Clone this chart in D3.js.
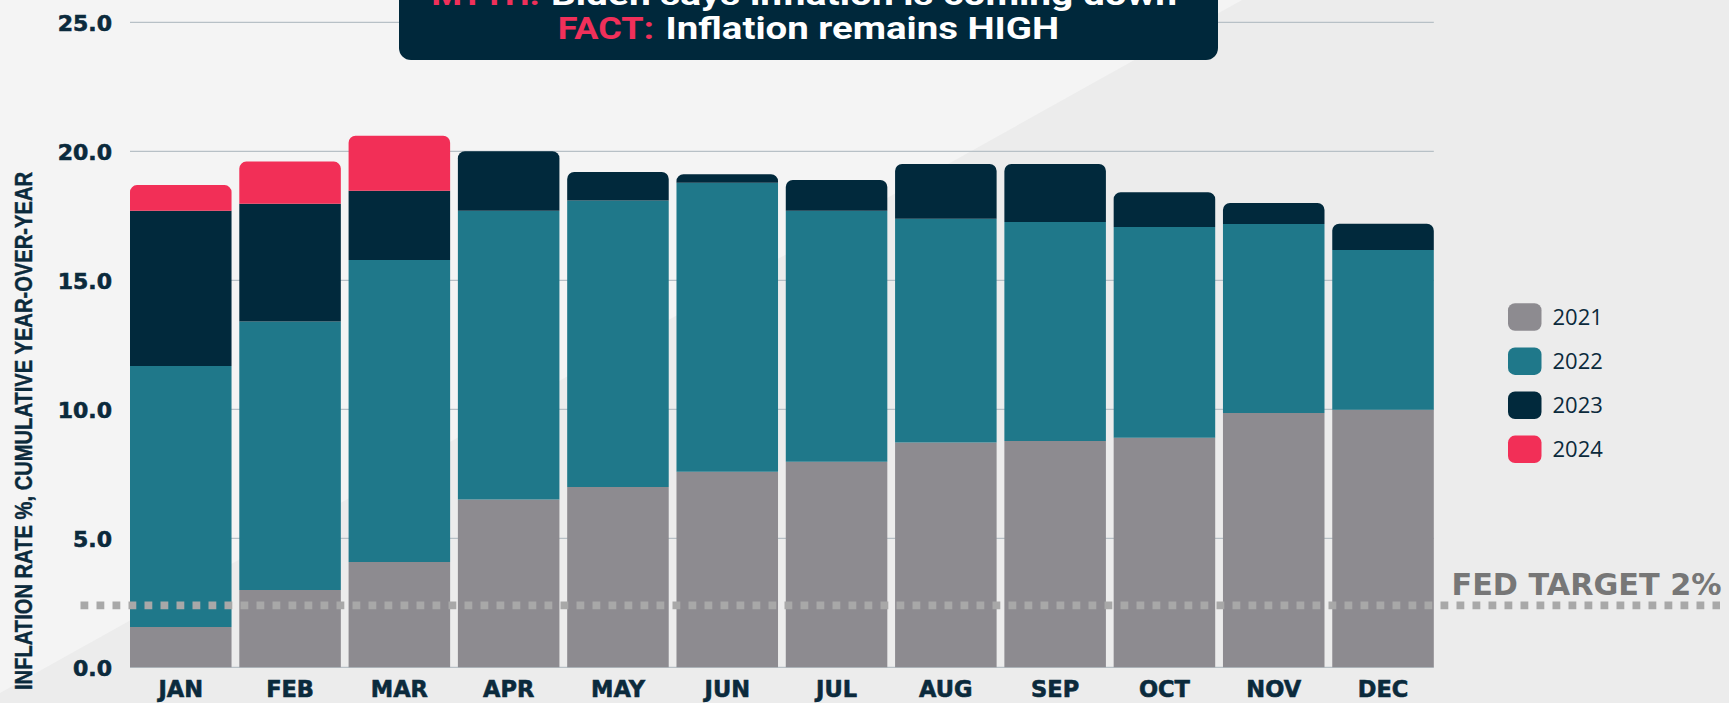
<!DOCTYPE html>
<html>
<head>
<meta charset="utf-8">
<script src="https://cdn.jsdelivr.net/npm/d3@7"></script>
<style>
  html, body { margin: 0; padding: 0; background: #ececec; overflow: hidden; }
  svg { display: block; }
</style>
</head>
<body>
<svg id="chart" width="1729" height="703"></svg>
<script>
// ---------------- DATA ----------------
const months = ["JAN","FEB","MAR","APR","MAY","JUN","JUL","AUG","SEP","OCT","NOV","DEC"];
const years = ["2021","2022","2023","2024"];
const values2021 = [1.56, 3.00, 4.08, 6.50, 6.99, 7.58, 7.97, 8.71, 8.77, 8.90, 9.86, 9.98];
const values2022 = [10.12, 10.40, 11.71, 11.20, 11.10, 11.20, 9.73, 8.68, 8.49, 8.17, 7.32, 6.19];
const values2023 = [6.02, 4.57, 2.68, 2.30, 1.11, 0.33, 1.19, 2.12, 2.25, 1.34, 0.82, 1.02];
const values2024 = [0.99, 1.63, 2.13, 0, 0, 0, 0, 0, 0, 0, 0, 0];
const yTickValues = [0, 5, 10, 15, 20, 25];
const fedTargetValue = 2.4;
const fedTargetLabel = "FED TARGET 2%";
const yAxisTitle = "INFLATION RATE %, CUMULATIVE YEAR-OVER-YEAR";
const titleMythLabel = "MYTH:";
const titleMythText = "Biden says inflation is coming down";
const titleFactLabel = "FACT:";
const titleFactText = "Inflation remains HIGH";

// ---------------- STYLE ----------------
const colors = { "2021": "#8d8b90", "2022": "#1f788a", "2023": "#01293c", "2024": "#f22f57" };
const navy = "#0b2a3c";

const svg = d3.select("#chart");
const W = 1729, H = 703;

// background with diagonal light area
svg.append("rect").attr("width", W).attr("height", H).attr("fill", "#ececec");
svg.append("path").attr("d", "M0,0 L1242,0 L0,693 Z").attr("fill", "#f4f4f4");

// scales
const x = d3.scaleBand().domain(months).range([130, 1433.8]).paddingInner(0.071).paddingOuter(0);
const y = d3.scaleLinear().domain([0, 25]).range([667.3, 22.3]);

// table for stacking
const table = months.map((m, i) => ({
  month: m,
  "2021": values2021[i], "2022": values2022[i], "2023": values2023[i], "2024": values2024[i]
}));
const stacked = d3.stack().keys(years)(table);

// gridlines
svg.append("g").selectAll("line").data(yTickValues).join("line")
  .attr("x1", x.range()[0]).attr("x2", x.range()[1])
  .attr("y1", d => y(d)).attr("y2", d => y(d))
  .attr("stroke", "#b7c0c6").attr("stroke-width", 1.2);

// y axis
const yAxis = svg.append("g").attr("transform", `translate(${x.range()[0]},0)`)
  .call(d3.axisLeft(y).tickValues(yTickValues).tickFormat(d3.format(".1f")).tickSize(0).tickPadding(18));
yAxis.select(".domain").remove();
yAxis.selectAll("text")
  .attr("font-family", "'DejaVu Sans', sans-serif").attr("font-weight", "bold")
  .attr("font-size", 22).attr("fill", navy).attr("stroke", navy).attr("stroke-width", 0.6)
  .attr("dy", "0.36em");

// x axis
const xAxis = svg.append("g").attr("transform", `translate(0,${y(0)})`)
  .call(d3.axisBottom(x).tickSize(0));
xAxis.select(".domain").remove();
xAxis.selectAll("text")
  .attr("font-family", "'DejaVu Sans', sans-serif").attr("font-weight", "bold")
  .attr("font-size", 22.5).attr("fill", navy).attr("stroke", navy).attr("stroke-width", 0.6)
  .attr("y", 29.5).attr("dy", null);

// find top series per month
const topIndex = months.map((m, i) => {
  let t = 0;
  stacked.forEach((s, k) => { if (s[i][1] - s[i][0] > 0) t = k; });
  return t;
});

function segPath(x0, w, yTop, yBot, r) {
  r = Math.min(r, (yBot - yTop), w / 2);
  return `M${x0},${yBot} V${yTop + r} A${r},${r} 0 0 1 ${x0 + r},${yTop} H${x0 + w - r} A${r},${r} 0 0 1 ${x0 + w},${yTop + r} V${yBot} Z`;
}

const barG = svg.append("g");
stacked.forEach((s, k) => {
  barG.append("g").attr("fill", colors[s.key])
    .selectAll("path").data(s.map((d, i) => ({ d, i })).filter(o => o.d[1] - o.d[0] > 0)).join("path")
    .attr("d", o => {
      const x0 = x(months[o.i]), w = x.bandwidth();
      const yTop = y(o.d[1]), yBot = y(o.d[0]);
      if (topIndex[o.i] === k) return segPath(x0, w, yTop, yBot, 7);
      return `M${x0},${yBot} V${yTop} H${x0 + w} V${yBot} Z`;
    });
});

// fed target line
svg.append("line")
  .attr("x1", 80.5).attr("x2", 1720)
  .attr("y1", y(fedTargetValue)).attr("y2", y(fedTargetValue))
  .attr("stroke", "#a8a8a8").attr("stroke-width", 7.7)
  .attr("stroke-dasharray", "7.8,8.2");
svg.append("text")
  .attr("x", 1451.5).attr("y", 595)
  .attr("font-family", "'DejaVu Sans', sans-serif").attr("font-weight", "bold")
  .attr("font-size", 30).attr("fill", "#777777")
  .attr("textLength", 270).attr("lengthAdjust", "spacingAndGlyphs")
  .text(fedTargetLabel);

// y axis title
svg.append("text")
  .attr("transform", "translate(31.7,690) rotate(-90)")
  .attr("font-family", "'Liberation Sans', Arial, sans-serif").attr("font-weight", "bold")
  .attr("font-size", 23).attr("fill", navy).attr("stroke", navy).attr("stroke-width", 0.4)
  .attr("textLength", 518).attr("lengthAdjust", "spacingAndGlyphs")
  .text(yAxisTitle);

// legend
const legend = svg.append("g");
years.forEach((yr, i) => {
  const g = legend.append("g").attr("transform", `translate(1508,${303.3 + i * 44.1})`);
  g.append("rect").attr("width", 33.5).attr("height", 27.5).attr("rx", 7).attr("fill", colors[yr]);
  g.append("text").attr("x", 44.5).attr("y", 13.8).attr("dy", "0.36em")
    .attr("font-family", "'Open Sans', sans-serif").attr("font-size", 22)
    .attr("fill", navy).text(yr);
});

// title box: each line laid out as label + text, placed side by side
const tg = svg.append("g");
tg.append("rect").attr("x", 399).attr("y", -30).attr("width", 819).attr("height", 90)
  .attr("rx", 12).attr("fill", "#00283b");
function titleLine(label, rest, xStart, labelLen, restStart, restLen, baseline) {
  tg.append("text").attr("x", xStart).attr("y", baseline)
    .attr("font-family", "Roboto, sans-serif").attr("font-weight", "bold").attr("font-size", 32)
    .attr("fill", "#f0305a").attr("textLength", labelLen).attr("lengthAdjust", "spacingAndGlyphs")
    .text(label);
  tg.append("text").attr("x", restStart).attr("y", baseline)
    .attr("font-family", "Roboto, sans-serif").attr("font-weight", "bold").attr("font-size", 32)
    .attr("fill", "#ffffff").attr("textLength", restLen).attr("lengthAdjust", "spacingAndGlyphs")
    .text(rest);
}
titleLine(titleMythLabel, titleMythText, 431.5, 108, 551, 626, 5.3);
titleLine(titleFactLabel, titleFactText, 557.8, 96, 665.6, 393.5, 39.3);
</script>
</body>
</html>
